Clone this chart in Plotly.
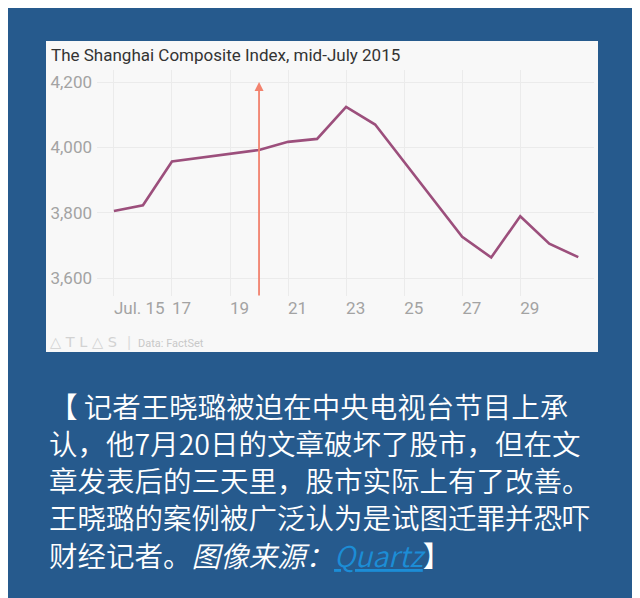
import plotly.graph_objects as go

# ---- data ----
dates = ["2015-07-15", "2015-07-16", "2015-07-17", "2015-07-20", "2015-07-21",
         "2015-07-22", "2015-07-23", "2015-07-24", "2015-07-27", "2015-07-28",
         "2015-07-29", "2015-07-30", "2015-07-31"]
index_values = [3805, 3823, 3957, 3992, 4017, 4026, 4124, 4070, 3726, 3663,
                3789, 3705, 3664]
x_tick_vals = ["2015-07-15", "2015-07-17", "2015-07-19", "2015-07-21",
               "2015-07-23", "2015-07-25", "2015-07-27", "2015-07-29"]
x_tick_text = ["Jul. 15", "17", "19", "21", "23", "25", "27", "29"]
y_tick_vals = [3600, 3800, 4000, 4200]
y_tick_text = ["3,600", "3,800", "4,000", "4,200"]
event_date = "2015-07-20"
event_range = [3542, 4200]

title_text = "The Shanghai Composite Index, mid-July 2015"
caption_lines = [
    "【 记者王晓璐被迫在中央电视台节目上承",
    "认，他7月20日的文章破坏了股市，但在文",
    "章发表后的三天里，股市实际上有了改善。",
    "王晓璐的案例被广泛认为是试图迁罪并恐吓",
    "财经记者。<i>图像来源：<span style='color:#1c8dd6'><u>Quartz</u></span></i>】",
]

# ---- layout constants ----
# page body adds an 8px offset; positions below are given in window pixels
OFF = 8
W, H = 640 - OFF, 598 - OFF
BLUE = "#265a8d"
INSET = "#f8f8f8"

def px(x):
    return (x - OFF) / W

def py(y):
    return 1 - (y - OFF) / H

fig = go.Figure()
fig.add_trace(go.Scatter(
    x=dates, y=index_values, mode="lines",
    line=dict(color="#9c4f7c", width=2.6),
    hoverinfo="skip", showlegend=False,
))

shapes = [
    dict(type="rect", xref="paper", yref="paper", x0=px(8), x1=px(633),
         y0=0, y1=1.01, fillcolor=BLUE, line=dict(width=0), layer="below"),
    dict(type="rect", xref="paper", yref="paper", x0=px(46), x1=px(598),
         y0=py(352), y1=py(41), fillcolor=INSET, line=dict(width=0), layer="below"),
]

annotations = [
    dict(x=event_date, y=event_range[1], ax=event_date, ay=event_range[0],
         xref="x", yref="y", axref="x", ayref="y", text="", showarrow=True,
         arrowhead=2, arrowsize=1, arrowwidth=1.8, arrowcolor="#f2826e"),
    dict(x=px(49), y=py(55), xref="paper", yref="paper", text=title_text,
         showarrow=False, xanchor="left", yanchor="middle",
         font=dict(family="Roboto", size=17, color="#333333")),
    dict(x=px(48), y=py(342), xref="paper", yref="paper",
         text="△ T L △ S", showarrow=False, xanchor="left", yanchor="middle",
         font=dict(family="DejaVu Sans", size=14.5, color="#d2d2d2")),
    dict(x=px(125), y=py(342), xref="paper", yref="paper",
         text="|", showarrow=False, xanchor="left", yanchor="middle",
         font=dict(family="Roboto", size=17, color="#dcdcdc")),
    dict(x=px(136), y=py(343), xref="paper", yref="paper",
         text="Data: FactSet", showarrow=False, xanchor="left", yanchor="middle",
         font=dict(family="Roboto", size=11, color="#c8c8c8")),
]

line_y0 = 405
line_step = 37.3
for i, t in enumerate(caption_lines):
    annotations.append(dict(
        x=px(47), y=py(line_y0 + i * line_step), xref="paper", yref="paper",
        text=t, showarrow=False, xanchor="left", yanchor="middle",
        font=dict(family="Noto Sans CJK SC", size=28.5, color="#ffffff", weight=350),
    ))

fig.update_layout(
    width=W, height=H,
    margin=dict(l=0, r=0, t=0, b=0),
    paper_bgcolor="#ffffff",
    plot_bgcolor="rgba(0,0,0,0)",
    shapes=shapes,
    annotations=annotations,
    showlegend=False,
    xaxis=dict(
        type="date",
        domain=[px(97), px(594)],
        range=["2015-07-14 10:00", "2015-07-31 13:00"],
        tickmode="array", tickvals=x_tick_vals, ticktext=x_tick_text,
        ticklabelposition="outside right",
        showgrid=True, gridcolor="#ebebeb", gridwidth=1,
        zeroline=False, showline=False, ticks="",
        tickfont=dict(family="Roboto", size=17, color="#a3a3a3"),
        fixedrange=True,
    ),
    yaxis=dict(
        domain=[py(296), py(70)],
        range=[3545, 4237],
        tickmode="array", tickvals=y_tick_vals, ticktext=y_tick_text,
        showgrid=True, gridcolor="#ebebeb", gridwidth=1,
        zeroline=False, showline=False, ticks="",
        ticklabelstandoff=4,
        tickfont=dict(family="Roboto", size=17, color="#a3a3a3"),
        fixedrange=True,
    ),
)

fig.write_html("out.html")
